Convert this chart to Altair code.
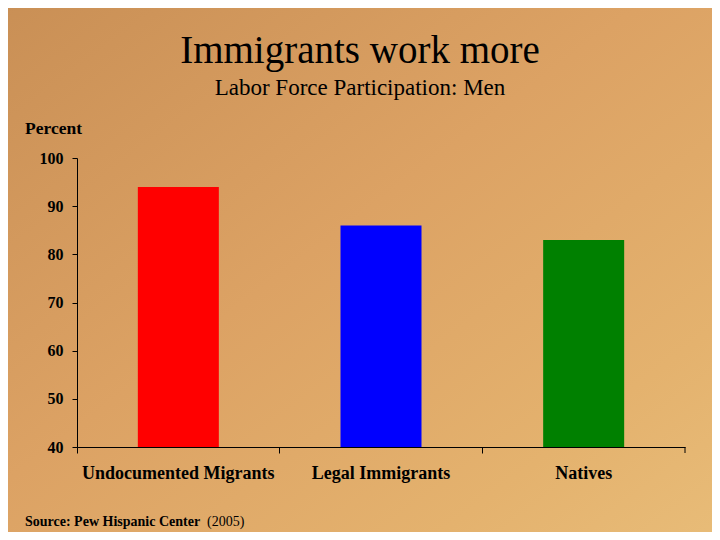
import altair as alt
import pandas as pd

categories = ["Undocumented Migrants", "Legal Immigrants", "Natives"]
values = [94, 86, 83]
bar_colors = ["#ff0000", "#0000ff", "#008000"]
y_ticks = [40, 50, 60, 70, 80, 90, 100]
y_min = 40

title_text = "Immigrants work more"
subtitle_text = "Labor Force Participation: Men"
y_label = "Percent"
source_bold = "Source: Pew Hispanic Center"
source_year = "(2005)"

W, H = 608, 289
PL, PT, PR, PB = 69, 150, 27, 85

df = pd.DataFrame({"category": categories, "value": values})
one = pd.DataFrame({"a": [0]})

FONT = "Liberation Serif"

bg = alt.Chart(one).mark_rect(
    fill=alt.Gradient(
        gradient="linear",
        x1=0, y1=0, x2=1, y2=1,
        stops=[
            alt.GradientStop(color="#c98f55", offset=0),
            alt.GradientStop(color="#dca264", offset=0.45),
            alt.GradientStop(color="#e4b26e", offset=0.8),
            alt.GradientStop(color="#e8bc78", offset=1),
        ],
    )
).encode(
    x=alt.value(-PL - 8), x2=alt.value(W + PR + 8),
    y=alt.value(-PT - 8), y2=alt.value(H + PB + 8),
)

bars = alt.Chart(df).mark_bar(size=81).encode(
    x=alt.X("category:N", sort=categories, title=None,
            scale=alt.Scale(paddingInner=0, paddingOuter=0),
            axis=alt.Axis(labelAngle=0, labelFont=FONT, labelFontSize=18,
                          labelFontWeight="bold", labelColor="black",
                          domainColor="black", tickColor="black",
                          tickSize=6, bandPosition=0, labelPadding=11,
                          labelBaseline="top", labelLimit=0, zindex=2)),
    y=alt.Y("value:Q", title=None,
            scale=alt.Scale(domain=[40, 100], zero=False, nice=False),
            axis=alt.Axis(values=y_ticks, grid=False, labelFont=FONT,
                          labelFontSize=16, labelFontWeight="bold",
                          labelColor="black", domainColor="black",
                          tickColor="black", tickSize=5, labelPadding=9,
                          zindex=2)),
    y2=alt.datum(y_min),
    color=alt.Color("category:N", sort=categories,
                    scale=alt.Scale(domain=categories, range=bar_colors),
                    legend=None),
)

end_tick = alt.Chart(one).mark_rule(color="black").encode(
    x=alt.value(W), y=alt.value(H), y2=alt.value(H + 6)
)

def txt(s, x, y, size, weight="normal", align="center"):
    return alt.Chart(pd.DataFrame({"t": [s]})).mark_text(
        font=FONT, fontSize=size, fontWeight=weight, color="black",
        align=align, baseline="alphabetic"
    ).encode(text="t:N", x=alt.value(x), y=alt.value(y))

title = txt(title_text, 360 - 8 - PL, 63 - 8 - PT, 39)
subtitle = txt(subtitle_text, 360 - 8 - PL, 95 - 8 - PT, 23)
plabel = txt(y_label, 25 - 8 - PL, 134 - 8 - PT, 17.5, "bold", "left")
src1 = txt(source_bold, 25 - 8 - PL, 526 - 8 - PT, 14, "bold", "left")
src2 = txt(source_year, 207 - 8 - PL, 526 - 8 - PT, 14, "normal", "left")

chart = alt.layer(bg, bars, end_tick, title, subtitle, plabel, src1, src2).properties(
    width=W, height=H,
    autosize=alt.AutoSizeParams(type="none"),
    padding={"left": PL, "top": PT, "right": PR, "bottom": PB},
    background="#dca466",
).configure_view(stroke=None)

chart.save("out.html", embed_options={"renderer": "svg", "actions": False})
